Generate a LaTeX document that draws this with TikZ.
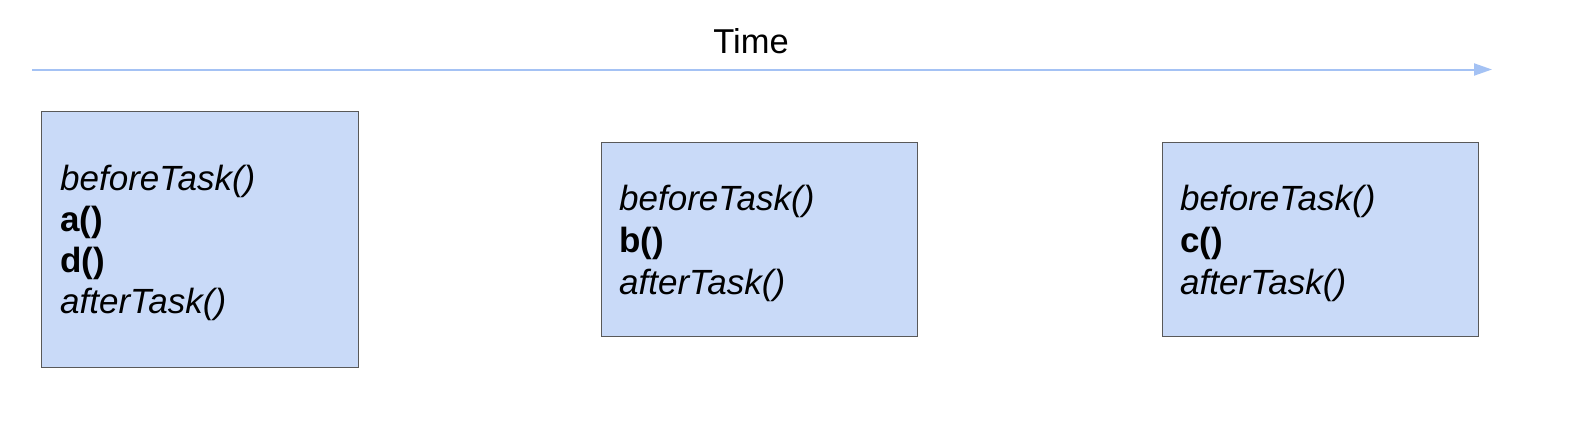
\documentclass[tikz,border=0pt]{standalone}
\usepackage{fontspec}
\setmainfont{Liberation Sans}
\usetikzlibrary{arrows.meta}
\definecolor{boxfill}{HTML}{C9DAF8}
\definecolor{boxline}{HTML}{595959}
\definecolor{timeline}{HTML}{A4C2F4}
\newcommand{\bt}[1]{{\fontsize{35}{40}\selectfont #1}}
\tikzset{
  taskbox/.style={draw=boxline, line width=1.2pt, fill=boxfill, rectangle, inner sep=0pt},
  tline/.style={anchor=base west, inner sep=0pt},
  timearrow/.style={draw=timeline, line width=2pt, -{Triangle[length=18pt,width=12pt]}}
}
\begin{document}
\begin{tikzpicture}[x=1pt,y=-1pt]
\useasboundingbox (0,0) rectangle (1578,420);
% time arrow
\coordinate (ts) at (32,69.5);
\coordinate (te) at (1492,69.5);
\draw[timearrow] (ts) -- (te);
\node[anchor=base, inner sep=0pt] (time) at (751,54) {\fontsize{34.5}{40}\selectfont Time};
% boxes
\node[taskbox, minimum width=317pt, minimum height=256pt, anchor=north west] (b1) at (40.5,111) {};
\node[taskbox, minimum width=316pt, minimum height=194pt, anchor=north west] (b2) at (601,142) {};
\node[taskbox, minimum width=316pt, minimum height=194pt, anchor=north west] (b3) at (1161.5,142) {};
% box 1 text
\node[tline] (b1l1) at (60,190) {\bt{\itshape beforeTask()}};
\node[tline] (b1l2) at (60,231) {\bt{\bfseries a()}};
\node[tline] (b1l3) at (60,272) {\bt{\bfseries d()}};
\node[tline] (b1l4) at (60,313) {\bt{\itshape afterTask()}};
% box 2 text
\node[tline] (b2l1) at (619,210) {\bt{\itshape beforeTask()}};
\node[tline] (b2l2) at (619,252) {\bt{\bfseries b()}};
\node[tline] (b2l3) at (619,294) {\bt{\itshape afterTask()}};
% box 3 text
\node[tline] (b3l1) at (1180,210) {\bt{\itshape beforeTask()}};
\node[tline] (b3l2) at (1180,252) {\bt{\bfseries c()}};
\node[tline] (b3l3) at (1180,294) {\bt{\itshape afterTask()}};
\end{tikzpicture}
\end{document}
